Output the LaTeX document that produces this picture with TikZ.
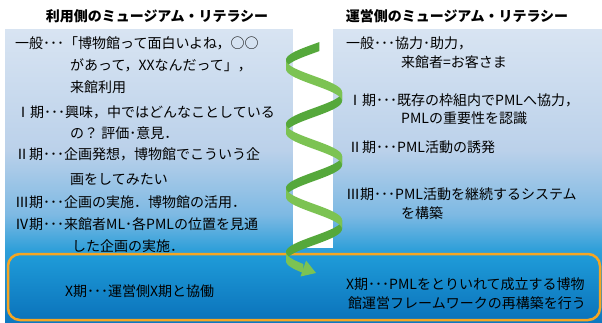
\documentclass[tikz,border=0pt]{standalone}
\usepackage{fontspec}
\setmainfont{Noto Sans CJK JP}
\definecolor{bgA}{HTML}{D8E4F2}
\definecolor{bgB}{HTML}{BBD1EA}
\definecolor{bgC}{HTML}{7DB9E3}
\definecolor{bgD}{HTML}{2E9FD9}
\definecolor{bgE}{HTML}{0D78C0}
\definecolor{boxTop}{HTML}{1F9CD9}
\definecolor{boxBot}{HTML}{0B73BB}
\definecolor{frameOrange}{HTML}{F5A623}
\definecolor{ribA}{HTML}{7CC353}
\definecolor{ribB}{HTML}{55A83B}
\pgfdeclareverticalshading{panelshade}{100bp}{color(0bp)=(bgE); color(25bp)=(bgE); color(37.3bp)=(bgD); color(43.3bp)=(bgC); color(54.4bp)=(bgB); color(75bp)=(bgA); color(100bp)=(bgA)}
\begin{document}
\begin{tikzpicture}[x=1pt,y=-1pt,
  txt/.style={anchor=base west,inner sep=0pt,font=\fontsize{14}{16}\selectfont},
  ttl/.style={anchor=base,inner sep=0pt,font=\fontsize{14}{16}\selectfont\bfseries},
  framebox/.style={draw=frameOrange,line width=2.5pt,rounded corners=12pt,top color=boxTop,bottom color=boxBot},
  declare function={hx(\t)=314-28*cos(5.625*(\t-60));}]
\useasboundingbox (0,0) rectangle (602,322);

% panels and the gap between them
\shade[shading=panelshade] (5,29) rectangle (602,322);
\fill[white] (293,29) rectangle (333,248);

% lower frame
\draw[framebox] (8,254) rectangle (600,320);

% titles
\node[ttl] (ltitle) at (157,21) {利用側のミュージアム・リテラシー};
\node[ttl] (rtitle) at (457,21) {運営側のミュージアム・リテラシー};

% user side
\node[txt] (l1) at (15,48) {一般･･･「博物館って面白いよね，○○};
\node[txt] (l2) at (70,70) {があって，XXなんだって」，};
\node[txt] (l3) at (70,92) {来館利用};
\node[txt] (l4) at (16,117) {Ⅰ期･･･興味，中ではどんなことしている};
\node[txt] (l5) at (70,138) {の？ 評価･意見．};
\node[txt] (l6) at (15,159) {Ⅱ期･･･企画発想，博物館でこういう企};
\node[txt] (l7) at (70,184) {画をしてみたい};
\node[txt] (l8) at (15,207) {Ⅲ期･･･企画の実施．博物館の活用．};
\node[txt] (l9) at (15,229) {Ⅳ期･･･来館者ML･各PMLの位置を見通};
\node[txt] (l10) at (72,251) {した企画の実施．};
\node[txt] (l11) at (65,296) {X期･･･運営側X期と協働};

% management side
\node[txt] (r1) at (346,48) {一般･･･協力･助力，};
\node[txt] (r2) at (401,67) {来館者=お客さま};
\node[txt] (r3) at (348,105) {Ⅰ期･･･既存の枠組内でPMLへ協力，};
\node[txt] (r4) at (401,123) {PMLの重要性を認識};
\node[txt] (r5) at (348,152) {Ⅱ期･･･PML活動の誘発};
\node[txt] (r6) at (346,199) {Ⅲ期･･･PML活動を継続するシステム};
\node[txt] (r7) at (401,218) {を構築};
\node[txt] (r8) at (346,289) {X期･･･PMLをとりいれて成立する博物};
\node[txt] (r9) at (348,308) {館運営フレームワークの再構築を行う};

% spiral ribbon: back halves first, then front halves
\foreach \a/\b in {42/60,92/124,156/188,220/252}{
  \fill[ribB] plot[domain=\a:\b,samples=25,smooth] ({hx(\x)},{\x})
    -- plot[domain=\b:\a,samples=25,smooth] ({hx(\x)},{\x+9}) -- cycle;
}
\foreach \a/\b in {60/92,124/156,188/220,252/264}{
  \fill[ribA] plot[domain=\a:\b,samples=25,smooth] ({hx(\x)},{\x})
    -- plot[domain=\b:\a,samples=25,smooth] ({hx(\x)},{\x+9}) -- cycle;
}
% arrow head at the lower end
\fill[ribA] (300.5,276.5) -- (316,273) -- (306.1,260.5) -- cycle;
\end{tikzpicture}
\end{document}
